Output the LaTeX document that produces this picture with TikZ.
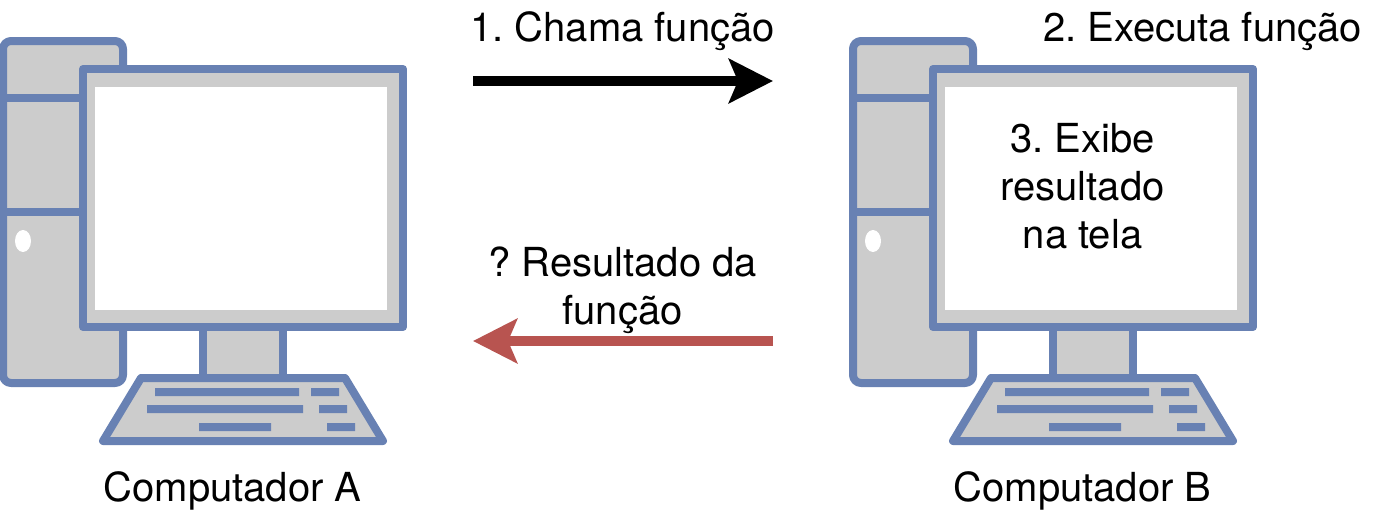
\documentclass[tikz,border=0pt]{standalone}
\usepackage{fontspec}
\setmainfont{TeX Gyre Heros}
\usetikzlibrary{shapes, arrows.meta, positioning}
\definecolor{pcBlue}{HTML}{6881B3}
\definecolor{pcGray}{HTML}{CCCCCC}
\definecolor{backRed}{HTML}{B85450}
\tikzstyle{part} = [draw=pcBlue, fill=pcGray, line width=6pt, line join=round]
\tikzstyle{keyrow} = [fill=pcBlue]
\tikzstyle{label} = [inner sep=0pt, align=center, font=\fontsize{30}{36}\selectfont\frenchspacing]
\tikzstyle{callArrow} = [line width=7.5pt, -{Stealth[length=33pt, width=33pt, inset=6.75pt]}]
% one computer, #1 = shift in px
\newcommand{\computer}[1]{
    \begin{scope}[xshift=#1*0.75pt]
        \draw[part, rounded corners=6pt] (3,41) rectangle (123,383);
        \draw[draw=pcBlue, line width=6pt] (3,98) -- (83,98) (3,212) -- (83,212);
        \fill[white] (23,241) ellipse (8 and 11);
        \draw[part] (203,327) rectangle (283,378);
        \draw[part] (83,69) rectangle (403,327);
        \fill[white] (95,87) rectangle (387,310);
        \draw[part] (141,378) -- (345,378) -- (383,441) -- (103,441) -- cycle;
        \fill[keyrow] (155,388) rectangle (299,396) (311,388) rectangle (339,396);
        \fill[keyrow] (147,405) rectangle (303,413) (319,405) rectangle (347,413);
        \fill[keyrow] (199,423) rectangle (271,431) (327,423) rectangle (355,431);
    \end{scope}
}

\begin{document}
\begin{tikzpicture}[x=0.75pt, y=-0.75pt]
    \useasboundingbox (0,0) rectangle (1374,522);
    \computer{0}
    \computer{850}

    \coordinate (callStart) at (473,81);
    \coordinate (callEnd) at (773,81);
    \coordinate (backStart) at (773,341);
    \coordinate (backEnd) at (473,341);
    \draw[callArrow] (callStart) -- (callEnd);
    \draw[callArrow, backRed] (backStart) -- (backEnd);

    \node[label, anchor=base] (call) at (622.5,41) {1. Chama função};
    \node[label, anchor=base] (exec) at (1202.5,41) {2. Executa função};
    \node[label] (show) at (1082.5,186) {3. Exibe \\ resultado \\ na tela};
    \node[label] (result) at (622.5,290) {? Resultado da \\ função};
    \node[label, anchor=base] (nameA) at (232.5,501) {Computador A};
    \node[label, anchor=base] (nameB) at (1082.5,501) {Computador B};
\end{tikzpicture}
\end{document}
